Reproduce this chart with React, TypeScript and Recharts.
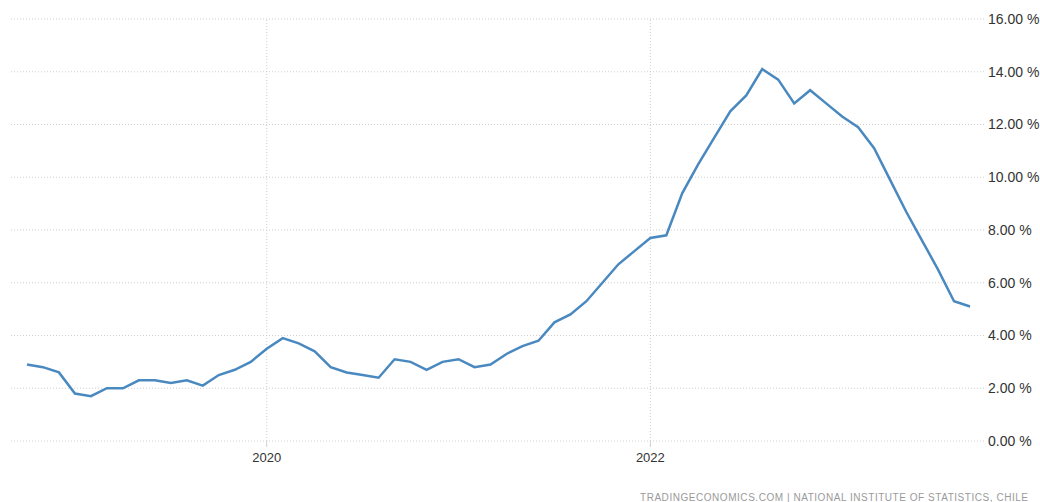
import { LineChart, Line, XAxis, YAxis, CartesianGrid, ReferenceLine } from 'recharts';

// Chile inflation rate, monthly, Oct 2018 .. Sep 2023
const months = [
  '2018-10', '2018-11', '2018-12',
  '2019-01', '2019-02', '2019-03', '2019-04', '2019-05', '2019-06',
  '2019-07', '2019-08', '2019-09', '2019-10', '2019-11', '2019-12',
  '2020-01', '2020-02', '2020-03', '2020-04', '2020-05', '2020-06',
  '2020-07', '2020-08', '2020-09', '2020-10', '2020-11', '2020-12',
  '2021-01', '2021-02', '2021-03', '2021-04', '2021-05', '2021-06',
  '2021-07', '2021-08', '2021-09', '2021-10', '2021-11', '2021-12',
  '2022-01', '2022-02', '2022-03', '2022-04', '2022-05', '2022-06',
  '2022-07', '2022-08', '2022-09', '2022-10', '2022-11', '2022-12',
  '2023-01', '2023-02', '2023-03', '2023-04', '2023-05', '2023-06',
  '2023-07', '2023-08', '2023-09',
];

const inflation = [
  2.9, 2.8, 2.6,
  1.8, 1.7, 2.0, 2.0, 2.3, 2.3, 2.2, 2.3, 2.1, 2.5, 2.7, 3.0,
  3.5, 3.9, 3.7, 3.4, 2.8, 2.6, 2.5, 2.4, 3.1, 3.0, 2.7, 3.0,
  3.1, 2.8, 2.9, 3.3, 3.6, 3.8, 4.5, 4.8, 5.3, 6.0, 6.7, 7.2,
  7.7, 7.8, 9.4, 10.5, 11.5, 12.5, 13.1, 14.1, 13.7, 12.8, 13.3, 12.8,
  12.3, 11.9, 11.1, 9.9, 8.7, 7.6, 6.5, 5.3, 5.1,
];

const yearTicks = ['2020', '2022'];
const yTicks = [0, 2, 4, 6, 8, 10, 12, 14, 16];
const source = 'TRADINGECONOMICS.COM | NATIONAL INSTITUTE OF STATISTICS, CHILE';

const data = months.map((m, i) => ({ i, month: m, value: inflation[i] }));
const xTicks = yearTicks.map((y) => months.indexOf(`${y}-01`));

export default function App() {
  return (
    <div
      style={{
        position: 'absolute',
        left: 0,
        top: 0,
        width: 1040,
        height: 502,
        overflow: 'hidden',
        background: '#fff',
        fontFamily: '"Liberation Sans", Arial, sans-serif',
      }}
    >
      <LineChart
        width={1040}
        height={502}
        data={data}
        margin={{ top: 19, right: 0, bottom: 0, left: 11 }}
      >
        <CartesianGrid stroke="#cfcfcf" strokeDasharray="1 2" vertical={false} />
        {xTicks.map((t) => (
          <ReferenceLine key={t} x={t} stroke="#cfcfcf" strokeDasharray="1 2" />
        ))}
        <XAxis
          dataKey="i"
          type="number"
          domain={[-1, 60]}
          ticks={xTicks}
          tickFormatter={(v: number) => months[v].slice(0, 4)}
          height={61}
          axisLine={false}
          tickLine={{ stroke: '#cfcfcf' }}
          tickSize={6}
          tickMargin={6}
          tick={{ fill: '#333', fontSize: 13 }}
        />
        <YAxis
          orientation="right"
          type="number"
          domain={[0, 16]}
          ticks={yTicks}
          tickFormatter={(v: number) => `${v.toFixed(2)} %`}
          width={54}
          axisLine={false}
          tickLine={false}
          tickSize={0}
          tickMargin={2}
          tick={{ fill: '#333', fontSize: 14, textAnchor: 'start' }}
        />
        <Line
          type="linear"
          dataKey="value"
          stroke="#4a89c0"
          strokeWidth={2.5}
          dot={false}
          isAnimationActive={false}
        />
      </LineChart>
      <svg
        width={1040}
        height={502}
        style={{ position: 'absolute', left: 0, top: 0, pointerEvents: 'none' }}
      >
        <text
          x={640}
          y={501}
          fontSize={10}
          fill="#9a9a9a"
          textLength={388}
          lengthAdjust="spacing"
        >
          {source}
        </text>
      </svg>
    </div>
  );
}
